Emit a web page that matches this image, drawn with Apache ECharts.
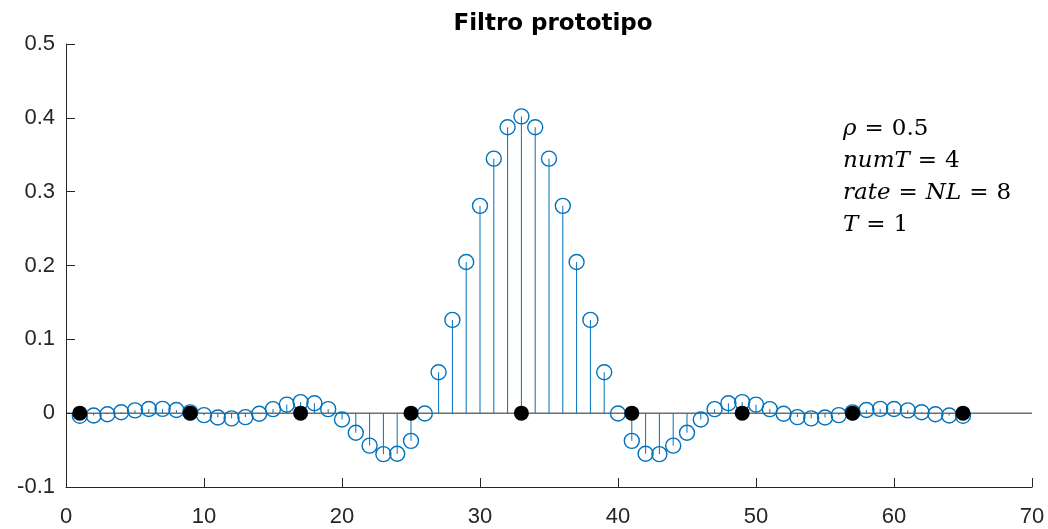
<!DOCTYPE html>
<html>
<head>
<meta charset="utf-8">
<script src="https://cdn.jsdelivr.net/npm/echarts@6/dist/echarts.min.js"></script>
<style>
  html, body { margin: 0; padding: 0; background: #ffffff; }
  #chart { width: 1048px; height: 529px; }
</style>
</head>
<body>
<div id="chart"></div>
<script>
// Prototype pulse (square-root raised cosine, rho = 0.5, 8 samples per symbol)
const titleText = 'Filtro prototipo';
const xTicks = [0, 10, 20, 30, 40, 50, 60, 70];
const yTicks = [-0.1, 0, 0.1, 0.2, 0.3, 0.4, 0.5];

// samples 1..33 (the pulse is symmetric around sample 33)
const halfResponse = [
  -0.0036, -0.0031, -0.0014, 0.0012, 0.0038, 0.0056, 0.0058, 0.0042,
  0.0011, -0.0027, -0.0058, -0.0070, -0.0053, -0.0008, 0.0055, 0.0116,
  0.0150, 0.0134, 0.0055, -0.0086, -0.0265, -0.0440, -0.0555, -0.0550,
  -0.0375, -0.0005, 0.0555, 0.1263, 0.2047, 0.2808, 0.3447, 0.3872,
  0.4020
];
const response = halfResponse.concat(halfResponse.slice(0, 32).reverse());
const sampleIdx = response.map((_, i) => i + 1);

// symbol instants (every 8th sample)
const symbolIdx = [1, 9, 17, 25, 33, 41, 49, 57, 65];
const symbolVals = [0, 0, 0, 0, 0, 0, 0, 0, 0];

// parameter block
const annotationLines = [
  '{v|\u03C1}{eq|=}{n|0.5}',
  '{v|numT}{eq|=}{n|4}',
  '{v|rate}{eq|=}{v|NL}{eq|=}{n|8}',
  '{v|T}{eq|=}{n|1}'
];

const blue = '#0072BD';
const axisColor = '#262626';
const font = '"Liberation Sans", Arial, Helvetica, sans-serif';
const serif = '"DejaVu Serif", "Liberation Serif", serif';

const stemData = sampleIdx.map((x, i) => [x, response[i]]);
const symbolData = symbolIdx.map((x, i) => [x, symbolVals[i]]);

const chart = echarts.init(document.getElementById('chart'), null, { renderer: 'canvas' });

const fmt = v => String(+Number(v).toFixed(1));

chart.setOption({
  animation: false,
  backgroundColor: '#ffffff',
  title: {
    text: titleText,
    left: 548,
    textAlign: 'center',
    top: 8,
    textStyle: { fontFamily: '"DejaVu Sans", "Liberation Sans", sans-serif', fontWeight: 'bold', fontSize: 23, color: '#000000' }
  },
  grid: { left: 66, right: 16, top: 44, bottom: 42, containLabel: false },
  xAxis: {
    type: 'value',
    min: xTicks[0],
    max: xTicks[xTicks.length - 1],
    interval: 10,
    axisLine: { show: true, onZero: false, lineStyle: { color: axisColor, width: 1 } },
    axisTick: { show: true, inside: true, length: 9, lineStyle: { color: axisColor } },
    axisLabel: { fontFamily: font, fontSize: 22, color: axisColor, margin: 19, formatter: fmt },
    splitLine: { show: false }
  },
  yAxis: {
    type: 'value',
    min: yTicks[0],
    max: yTicks[yTicks.length - 1],
    interval: 0.1,
    axisLine: { show: true, onZero: false, lineStyle: { color: axisColor, width: 1 } },
    axisTick: { show: true, inside: true, length: 9, lineStyle: { color: axisColor } },
    axisLabel: { fontFamily: font, fontSize: 22, color: axisColor, margin: 11, formatter: fmt },
    splitLine: { show: false }
  },
  series: [
    {
      // zero baseline across the x range
      type: 'line',
      data: [[xTicks[0], 0], [xTicks[xTicks.length - 1], 0]],
      symbol: 'none',
      lineStyle: { color: axisColor, width: 1 },
      silent: true,
      z: 1
    },
    {
      // stems
      type: 'custom',
      data: stemData,
      renderItem: function (params, api) {
        const x = api.value(0);
        const y = api.value(1);
        const p0 = api.coord([x, 0]);
        const p1 = api.coord([x, y]);
        return {
          type: 'line',
          shape: { x1: p0[0], y1: p0[1], x2: p1[0], y2: p1[1] },
          style: { stroke: blue, lineWidth: 1 }
        };
      },
      z: 2
    },
    {
      // open circle markers
      type: 'scatter',
      data: stemData,
      symbol: 'circle',
      symbolSize: 15,
      itemStyle: { color: 'rgba(0,0,0,0)', borderColor: blue, borderWidth: 1.4, opacity: 1 },
      z: 3
    },
    {
      // filled markers at symbol instants
      type: 'scatter',
      data: symbolData,
      symbol: 'circle',
      symbolSize: 15,
      itemStyle: { color: '#000000', opacity: 1 },
      z: 4
    }
  ],
  graphic: [
    {
      type: 'text',
      left: 843,
      top: 113,
      style: {
        text: annotationLines.join('\n'),
        lineHeight: 32,
        rich: {
          v: { fontFamily: serif, fontStyle: 'italic', fontSize: 23, color: '#000000', lineHeight: 32 },
          n: { fontFamily: serif, fontSize: 23, color: '#000000', lineHeight: 32 },
          eq: { fontFamily: serif, fontSize: 23, color: '#000000', padding: [0, 8], lineHeight: 32 }
        }
      }
    }
  ]
});
</script>
</body>
</html>
